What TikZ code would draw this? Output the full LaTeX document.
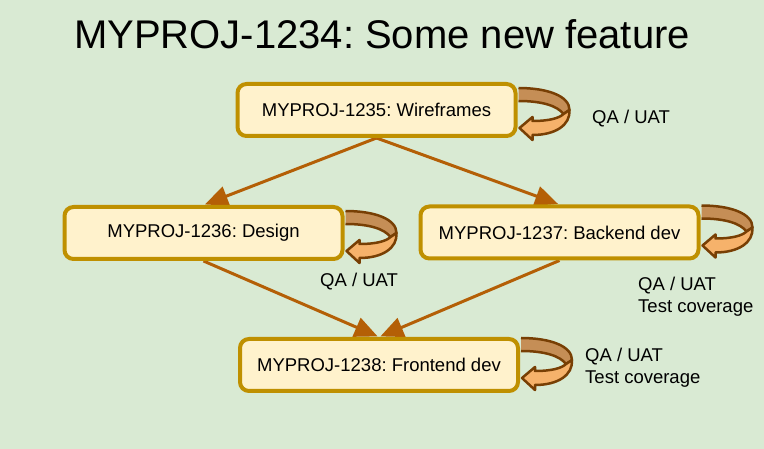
\documentclass[tikz,border=0pt]{standalone}
\usepackage{fontspec}
\setmainfont{Liberation Sans}
\usetikzlibrary{arrows.meta,backgrounds}
\definecolor{bggreen}{RGB}{217,234,211}
\definecolor{boxgold}{RGB}{191,144,0}
\definecolor{boxfill}{RGB}{255,242,204}
\definecolor{linkorange}{RGB}{180,95,6}
\definecolor{loopfill}{RGB}{246,178,107}
\definecolor{loopdark}{RGB}{197,142,86}
\definecolor{loopline}{RGB}{120,63,4}
\frenchspacing

\tikzset{
  task/.style={draw=boxgold,fill=boxfill,line width=4pt,rounded corners=9pt,
    minimum width=278pt,minimum height=52pt,inner sep=0pt,
    font=\fontsize{18.5}{22}\selectfont},
  link/.style={draw=linkorange,line width=3pt,shorten >=1.5pt,
    -{Triangle[length=23pt,width=20pt]}},
  qalabel/.style={anchor=north west,inner sep=0pt,align=left,
    font=\fontsize{18.5}{21.5}\selectfont},
  qaloop/.pic={
    % back of the band
    \filldraw[draw=loopline,fill=loopdark,line width=2.5pt,line join=round]
      (1,-27) .. controls (30,-27) and (52,-19) .. (52,-5) -- (46,-1)
      .. controls (40,-9) and (25,-14) .. (1,-14);
    % front of the band with the head
    \filldraw[draw=loopline,fill=loopfill,line width=2.5pt,line join=round]
      (52,-5) .. controls (53,10) and (38,20) .. (15,20) -- (15,25) -- (2,13)
      -- (15,2) -- (15,6) .. controls (32,6) and (42,3) .. (46,-1) -- cycle;
  }
}

\begin{document}
\begin{tikzpicture}[x=1pt,y=-1pt]
  \useasboundingbox (0,0) rectangle (764,449);

  \node[font=\fontsize{40}{48}\selectfont,anchor=base] (title) at (382,49)
    {MYPROJ-1234: Some new feature};

  \node[task] (wire) at (376.5,110) {MYPROJ-1235: Wireframes};
  \node[task] (design) at (203.5,233) {MYPROJ-1236: Design};
  \node[task] (backend) at (559.5,232.5) {MYPROJ-1237: Backend dev};
  \node[task] (frontend) at (379,365) {MYPROJ-1238: Frontend dev};

  \node[qalabel] (qawire) at (592,110) {QA / UAT};
  \node[qalabel] (qadesign) at (320,273) {QA / UAT};
  \node[qalabel] (qabackend) at (638,277) {QA / UAT\\Test coverage};
  \node[qalabel] (qafrontend) at (585,348) {QA / UAT\\Test coverage};

  \begin{scope}[on background layer]
    \fill[bggreen] (0,0) rectangle (764,449);
    \draw[link] (wire.south) -- (design.north);
    \draw[link] (wire.south) -- (backend.north);
    \draw[link] (design.south) -- (frontend.north);
    \draw[link] (backend.south) -- (frontend.north);
    \pic at ([yshift=-5pt]wire.east) {qaloop};
    \pic at ([yshift=-5pt]design.east) {qaloop};
    \pic at (backend.east) {qaloop};
    \pic at (frontend.east) {qaloop};
  \end{scope}
\end{tikzpicture}
\end{document}
